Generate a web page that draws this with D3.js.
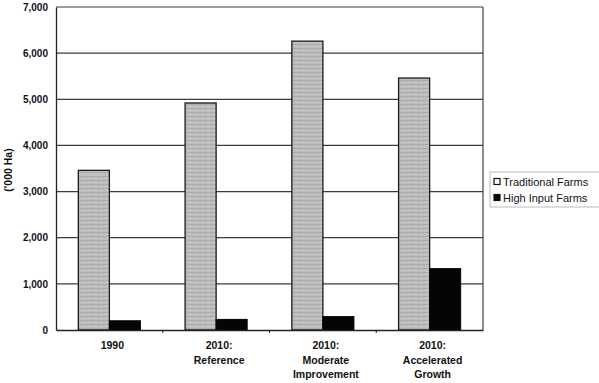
<!DOCTYPE html>
<html><head><meta charset="utf-8">
<script src="https://cdn.jsdelivr.net/npm/d3@7"></script>
<style>body{margin:0;background:#fff}svg{display:block}text{font-family:"Liberation Sans",Arial,sans-serif}</style>
</head><body>
<svg id="c" width="599" height="383"></svg>
<script>
const categories = [["1990"],["2010:","Reference"],["2010:","Moderate","Improvement"],["2010:","Accelerated","Growth"]];
const catKeys = ["1990","2010: Reference","2010: Moderate Improvement","2010: Accelerated Growth"];
const seriesNames = ["Traditional Farms","High Input Farms"];
const traditional = [3460, 4920, 6260, 5460];
const highInput = [200, 230, 290, 1330];
const yTicks = [0,1000,2000,3000,4000,5000,6000,7000];
const yLabel = "('000 Ha)";

(function(){
const svg = d3.select("#c");
const pL = 56, pR = 483, pT = 7, pB = 330;

const defs = svg.append("defs");
const pat = defs.append("pattern").attr("id","tex").attr("patternUnits","userSpaceOnUse").attr("width",6).attr("height",4);
pat.append("rect").attr("width",6).attr("height",4).attr("fill","#bdbdbd");
pat.append("rect").attr("y",0).attr("width",6).attr("height",1).attr("fill","#adadad");
pat.append("rect").attr("x",2).attr("y",2).attr("width",3).attr("height",1).attr("fill","#c9c9c9");

const x = d3.scaleBand().domain(catKeys).range([pL,pR]);
const x1 = d3.scaleBand().domain(seriesNames).range([0,x.bandwidth()]).paddingInner(0).paddingOuter(0.72);
const y = d3.scaleLinear().domain([0,7000]).range([pB,pT]);

svg.append("g").selectAll("line").data(yTicks.filter(d=>d>0)).join("line")
  .attr("x1",pL).attr("x2",pR).attr("y1",d=>y(d)).attr("y2",d=>y(d))
  .attr("stroke","#3c3c3c").attr("stroke-width",1.2);

svg.append("line").attr("x1",pR).attr("x2",pR).attr("y1",pT).attr("y2",pB).attr("stroke","#444").attr("stroke-width",1.2);

const groups = svg.append("g").selectAll("g").data(catKeys).join("g").attr("transform",d=>`translate(${x(d)},0)`);
groups.append("rect")
  .attr("x",x1("Traditional Farms")).attr("width",x1.bandwidth())
  .attr("y",(d,i)=>y(traditional[i])).attr("height",(d,i)=>y(0)-y(traditional[i]))
  .attr("fill","url(#tex)").attr("stroke","#1a1a1a").attr("stroke-width",1.3);
groups.append("rect")
  .attr("x",x1("High Input Farms")).attr("width",x1.bandwidth())
  .attr("y",(d,i)=>y(highInput[i])).attr("height",(d,i)=>y(0)-y(highInput[i]))
  .attr("fill","#050505").attr("stroke","#050505").attr("stroke-width",1);

const ya = svg.append("g").attr("transform",`translate(${pL},0)`)
  .call(d3.axisLeft(y).tickValues(yTicks).tickFormat(d3.format(",")).tickSize(0).tickPadding(8));
ya.select(".domain").attr("stroke","#222").attr("stroke-width",1.3);
ya.selectAll("text").attr("font-size",10).attr("font-weight","bold").attr("fill","#111");

const xa = svg.append("g").attr("transform",`translate(0,${pB})`)
  .call(d3.axisBottom(x).tickSize(0).tickFormat(""));
xa.select(".domain").attr("stroke","#222").attr("stroke-width",1.5);
svg.append("g").selectAll("line").data(catKeys.slice(1)).join("line")
  .attr("x1",d=>x(d)).attr("x2",d=>x(d)).attr("y1",pB).attr("y2",pB+3)
  .attr("stroke","#222");

const lab = svg.append("g").selectAll("text").data(categories).join("text")
  .attr("x",(d,i)=>x(catKeys[i])+x.bandwidth()/2+3).attr("y",349)
  .attr("text-anchor","middle").attr("font-size",10.5).attr("font-weight","bold").attr("fill","#111");
lab.selectAll("tspan").data(d=>d).join("tspan")
  .attr("x",function(){return this.parentNode.getAttribute("x");})
  .attr("dy",(d,i)=>i===0?0:14.5).text(d=>d);

svg.append("text").attr("transform","translate(12,170) rotate(-90)")
  .attr("text-anchor","middle").attr("font-size",10.5).attr("font-weight","bold").attr("fill","#111").text(yLabel);

const lg = svg.append("g").attr("transform","translate(490,172)");
lg.append("rect").attr("width",112).attr("height",35).attr("fill","#fff").attr("stroke","#bbb").attr("stroke-width",1);
const items = lg.selectAll("g").data(seriesNames).join("g").attr("transform",(d,i)=>`translate(3,${10+i*16})`);
items.append("rect").attr("x",1).attr("y",-3.5).attr("width",6).attr("height",6)
  .attr("fill",(d,i)=>i===0?"#fff":"#050505").attr("stroke","#111").attr("stroke-width",1.2);
items.append("text").attr("x",10).attr("y",3.5).attr("font-size",11).attr("fill","#111").text(d=>d);
})();
</script>
</body></html>
